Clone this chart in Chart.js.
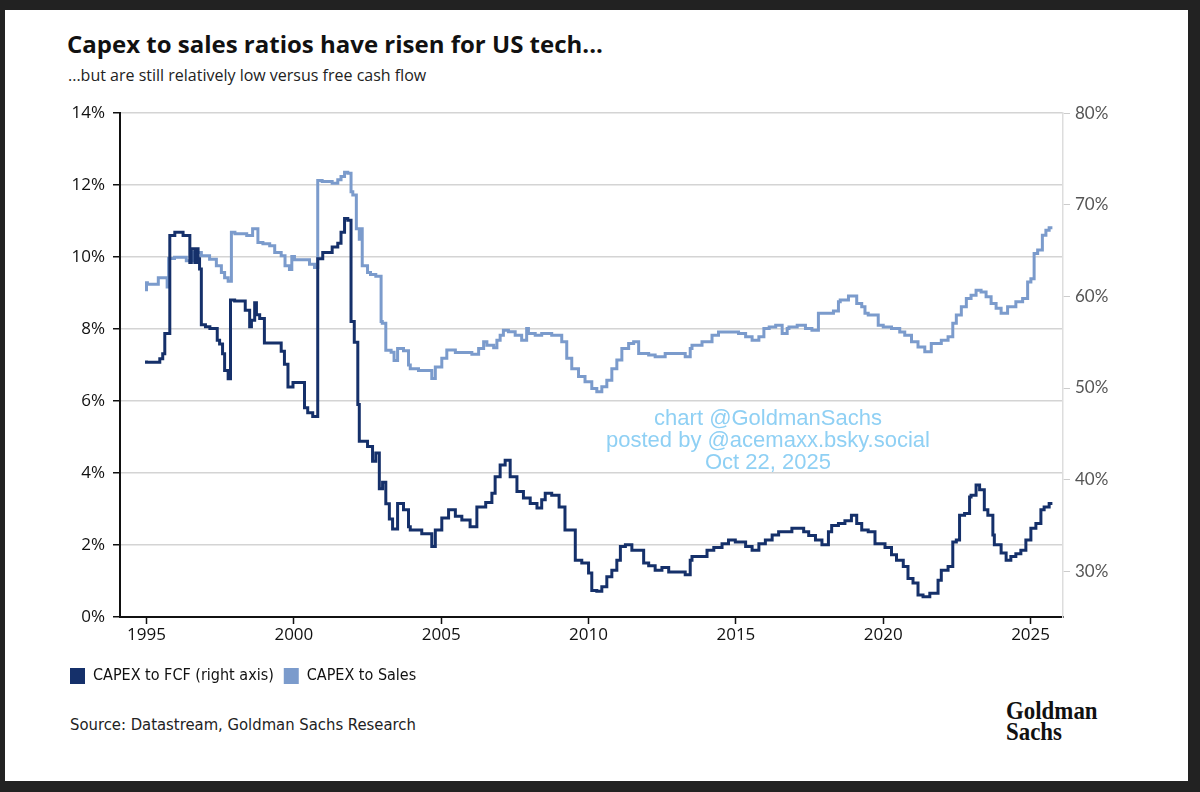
<!DOCTYPE html>
<html>
<head>
<meta charset="utf-8">
<script src="https://cdn.jsdelivr.net/npm/chart.js@4.4.1/dist/chart.umd.min.js"></script>
<style>
  html, body { margin: 0; padding: 0; background: #222; }
  body { width: 1200px; height: 792px; position: relative; overflow: hidden; }
  #card { position: absolute; left: 5px; top: 10px; width: 1183px; height: 771px; background: #fff; }
  .abs { position: absolute; white-space: nowrap; }
  #title { left: 67px; top: 27px; font: bold 24px "Open Sans", sans-serif; color: #111; }
  #subtitle { left: 68px; top: 64px; font: 16px "Open Sans", sans-serif; color: #222; }
  #source { left: 70px; top: 715px; font: 16.5px "Liberation Sans Narrow", "DejaVu Sans Condensed", sans-serif; color: #222; }
  #logo { left: 1006px; top: 700px; font: bold 26px/21px "Liberation Serif", serif; color: #111; transform: scaleX(0.88); transform-origin: left top; }
  #stamp { left: 548px; top: 407px; width: 440px; text-align: center; font: 22px/22px "Liberation Sans", Arial, sans-serif; color: #8fd0f4; }
  #chart { position: absolute; left: 60px; top: 95px; }
</style>
</head>
<body>
<div id="card"></div>
<div id="title" class="abs">Capex to sales ratios have risen for US tech...</div>
<div id="subtitle" class="abs">...but are still relatively low versus free cash flow</div>
<canvas id="chart" width="1075" height="600"></canvas>
<div id="stamp" class="abs">chart @GoldmanSachs<br>posted by @acemaxx.bsky.social<br>Oct 22, 2025</div>
<div id="source" class="abs">Source: Datastream, Goldman Sachs Research</div>
<div id="logo" class="abs">Goldman<br>Sachs</div>
<script>
// tick labels
const yearTicks = [1995, 2000, 2005, 2010, 2015, 2020, 2025];
const leftTicks = [0, 2, 4, 6, 8, 10, 12, 14];
const rightTicks = [30, 40, 50, 60, 70, 80];

// CAPEX to FCF, % (right axis)
const fcfYears = [
  1995.0, 1995.45, 1995.55, 1995.62, 1995.79, 1995.96, 1996.24, 1996.47, 1996.52, 1996.64,
  1996.7, 1996.75, 1996.8, 1996.86, 1997.0, 1997.15, 1997.4, 1997.48, 1997.58, 1997.65,
  1997.77, 1997.85, 1997.99, 1998.35, 1998.5, 1998.56, 1998.67, 1998.73, 1998.84, 1999.0,
  1999.57, 1999.68, 1999.8, 1999.97, 2000.36, 2000.47, 2000.64, 2000.81, 2000.98, 2001.3,
  2001.49, 2001.6, 2001.72, 2001.83, 2001.94, 2002.05, 2002.17, 2002.22, 2002.5, 2002.67,
  2002.78, 2002.9, 2003.01, 2003.12, 2003.24, 2003.35, 2003.52, 2003.72, 2003.89, 2003.95,
  2004.34, 2004.68, 2004.8, 2005.02, 2005.25, 2005.48, 2005.7, 2005.98, 2006.21, 2006.51,
  2006.72, 2006.83, 2007.0, 2007.17, 2007.34, 2007.57, 2007.79, 2008.02, 2008.25, 2008.41,
  2008.53, 2008.75, 2009.0, 2009.2, 2009.55, 2009.77, 2010.0, 2010.11, 2010.28, 2010.45,
  2010.62, 2010.79, 2010.96, 2011.08, 2011.25, 2011.47, 2011.87, 2012.04, 2012.26, 2012.49,
  2012.72, 2013.28, 2013.45, 2013.51, 2014.02, 2014.25, 2014.53, 2014.75, 2014.98, 2015.33,
  2015.55, 2015.78, 2016.0, 2016.23, 2016.45, 2016.9, 2017.3, 2017.47, 2017.7, 2017.92,
  2018.14, 2018.25, 2018.48, 2018.7, 2018.92, 2019.1, 2019.27, 2019.49, 2019.72, 2020.06,
  2020.28, 2020.45, 2020.68, 2020.84, 2021.01, 2021.18, 2021.35, 2021.58, 2021.86, 2021.97,
  2022.2, 2022.36, 2022.48, 2022.59, 2022.76, 2022.93, 2022.98, 2023.15, 2023.27, 2023.43,
  2023.55, 2023.72, 2023.77, 2024.0, 2024.17, 2024.33, 2024.5, 2024.67, 2024.84, 2025.01,
  2025.18, 2025.35, 2025.46, 2025.63, 2025.74
];
const fcfValues = [
  53.0, 52.8, 53.2, 53.75, 55.96, 66.65, 67.0, 66.65, 63.7, 65.2,
  63.7, 65.2, 64.1, 63.0, 56.9, 56.7, 56.5, 55.2, 54.8, 53.75,
  51.9, 51.0, 59.6, 59.5, 58.5, 56.7, 57.4, 59.3, 58.0, 57.6,
  54.9, 54.0, 52.6, 50.1, 50.6, 47.85, 47.3, 46.9, 64.1, 64.8,
  65.4, 65.8, 67.0, 68.5, 68.3, 57.25, 55.0, 48.2, 44.2, 43.6,
  42.0, 42.9, 39.0, 39.7, 37.35, 35.7, 34.6, 37.4, 36.7, 34.86,
  34.5, 34.1, 32.7, 34.5, 35.8, 36.7, 36.0, 35.6, 34.86, 37.0,
  37.5, 38.5, 40.3, 41.6, 42.1, 40.3, 38.7, 38.0, 37.4, 36.9,
  37.8, 38.5, 38.3, 37.0, 34.5, 31.2, 30.9, 29.8, 27.9, 27.8,
  28.3, 29.4, 30.1, 31.2, 32.7, 32.9, 32.3, 30.9, 30.6, 30.1,
  30.4, 29.9, 29.6, 31.2, 31.6, 32.3, 32.6, 33.0, 33.4, 33.2,
  32.7, 32.3, 33.0, 33.4, 33.95, 34.3, 34.7, 34.3, 33.9, 33.4,
  32.9, 34.3, 35.0, 35.2, 35.5, 36.1, 35.2, 34.5, 34.3, 33.0,
  32.6, 31.8, 31.2, 30.5, 29.2, 28.7, 27.4, 27.2, 27.6, 29.0,
  30.1, 30.5, 33.2, 33.4, 36.1, 36.3, 38.1, 38.3, 39.4, 38.9,
  36.7, 36.1, 33.95, 32.9, 32.0, 31.2, 31.6, 31.9, 32.3, 33.4,
  34.7, 35.2, 36.7, 37.0, 37.4
];

// CAPEX to Sales, % (left axis)
const salesYears = [
  1995.0, 1995.03, 1995.4, 1995.7, 1995.75, 1995.95, 1996.35, 1996.6, 1996.86, 1997.14,
  1997.37, 1997.54, 1997.65, 1997.77, 1997.88, 1998.0, 1998.4, 1998.6, 1998.78, 1998.95,
  1999.18, 1999.35, 1999.57, 1999.7, 1999.85, 1999.93, 2000.02, 2000.53, 2000.7, 2000.81,
  2000.96, 2001.3, 2001.49, 2001.6, 2001.72, 2001.83, 2001.94, 2002.0, 2002.12, 2002.22,
  2002.27, 2002.32, 2002.5, 2002.6, 2002.78, 2002.96, 2003.0, 2003.12, 2003.3, 2003.4,
  2003.52, 2003.72, 2003.89, 2003.95, 2004.23, 2004.68, 2004.8, 2005.02, 2005.19, 2005.48,
  2006.04, 2006.27, 2006.44, 2006.55, 2006.78, 2006.89, 2007.0, 2007.11, 2007.28, 2007.51,
  2007.73, 2007.9, 2007.96, 2008.19, 2008.41, 2008.75, 2009.09, 2009.26, 2009.43, 2009.66,
  2009.88, 2010.11, 2010.28, 2010.45, 2010.62, 2010.79, 2010.96, 2011.13, 2011.36, 2011.53,
  2011.7, 2012.04, 2012.26, 2012.6, 2012.94, 2013.28, 2013.45, 2013.51, 2013.85, 2014.19,
  2014.41, 2014.75, 2015.09, 2015.33, 2015.55, 2015.78, 2015.95, 2016.13, 2016.35, 2016.57,
  2016.74, 2016.8, 2017.08, 2017.36, 2017.58, 2017.8, 2018.31, 2018.48, 2018.54, 2018.82,
  2019.1, 2019.27, 2019.38, 2019.49, 2019.83, 2020.0, 2020.28, 2020.56, 2020.73, 2020.96,
  2021.18, 2021.41, 2021.63, 2021.97, 2022.2, 2022.36, 2022.48, 2022.65, 2022.82, 2022.98,
  2023.15, 2023.32, 2023.49, 2023.66, 2023.83, 2024.0, 2024.22, 2024.5, 2024.73, 2024.9,
  2025.01, 2025.12, 2025.24, 2025.4, 2025.52, 2025.63, 2025.74
];
const salesValues = [
  9.05, 9.29, 9.25, 9.43, 9.17, 9.96, 10.0, 9.9, 10.13, 10.04,
  9.94, 9.76, 9.57, 9.43, 9.33, 10.69, 10.65, 10.6, 10.79, 10.41,
  10.37, 10.32, 10.13, 10.04, 9.76, 9.66, 10.02, 9.93, 9.8, 9.71,
  12.13, 12.1, 12.05, 12.15, 12.24, 12.36, 12.33, 11.82, 11.73, 10.79,
  10.5, 10.79, 9.76, 9.57, 9.52, 9.47, 8.21, 8.16, 7.41, 7.36,
  7.13, 7.46, 7.4, 7.0, 6.9, 6.85, 6.63, 6.95, 7.19, 7.42,
  7.35, 7.3, 7.46, 7.65, 7.55, 7.48, 7.69, 7.83, 7.97, 7.93,
  7.83, 7.69, 8.02, 7.88, 7.83, 7.88, 7.83, 7.65, 7.19, 6.9,
  6.68, 6.54, 6.35, 6.26, 6.4, 6.58, 6.9, 7.14, 7.46, 7.6,
  7.65, 7.32, 7.28, 7.23, 7.32, 7.32, 7.23, 7.46, 7.55, 7.65,
  7.83, 7.92, 7.92, 7.88, 7.79, 7.69, 7.79, 8.02, 8.06, 8.11,
  7.88, 8.02, 8.06, 8.11, 8.02, 7.97, 8.44, 8.5, 8.76, 8.81,
  8.92, 8.71, 8.62, 8.44, 8.39, 8.11, 8.06, 8.02, 7.92, 7.83,
  7.65, 7.5, 7.37, 7.6, 7.69, 7.79, 8.16, 8.39, 8.62, 8.85,
  8.94, 9.08, 9.03, 8.9, 8.71, 8.58, 8.44, 8.62, 8.76, 8.85,
  9.31, 9.4, 10.1, 10.2, 10.61, 10.75, 10.82
];

const toPoints = (xs, ys) => xs.map((x, i) => ({ x: x, y: ys[i] }));
const tickFont = { family: "'Open Sans', sans-serif", size: 17 };

const ctx = document.getElementById("chart").getContext("2d");
const chart = new Chart(ctx, {
  type: "line",
  data: {
    datasets: [
      {
        label: "CAPEX to FCF (right axis)",
        data: toPoints(fcfYears, fcfValues),
        yAxisID: "yRight",
        borderColor: "#15306a",
        backgroundColor: "#15306a",
        borderWidth: 3,
        stepped: "after",
        pointRadius: 0,
      },
      {
        label: "CAPEX to Sales",
        data: toPoints(salesYears, salesValues),
        yAxisID: "yLeft",
        borderColor: "#7b9bcc",
        backgroundColor: "#7b9bcc",
        borderWidth: 3,
        stepped: "after",
        pointRadius: 0,
      },
    ],
  },
  options: {
    responsive: false,
    animation: false,
    layout: { padding: { top: 18, bottom: 1, left: 0, right: 0 } },
    plugins: {
      tooltip: { enabled: false },
      legend: {
        position: "bottom",
        align: "start",
        labels: {
          color: "#111",
          font: { family: "'Liberation Sans Narrow', 'DejaVu Sans Condensed', sans-serif", size: 16 },
          boxWidth: 15,
          boxHeight: 16,
          padding: 10,
          generateLabels: (c) =>
            Chart.defaults.plugins.legend.labels.generateLabels(c).map((l) => ({ ...l, lineWidth: 0, fillStyle: l.strokeStyle })),
        },
      },
    },
    scales: {
      x: {
        type: "linear",
        min: 1994.1,
        max: 2026.1,
        afterBuildTicks: (s) => { s.ticks = yearTicks.map((v) => ({ value: v })); },
        afterFit: (s) => { s.height = 41; },
        ticks: { color: "#111", font: tickFont, padding: 1, callback: (v) => String(v) },
        grid: { drawOnChartArea: false, drawTicks: true, tickLength: 7, tickColor: "#111", tickWidth: 1.5 },
        border: { color: "#111", width: 2 },
      },
      yLeft: {
        position: "left",
        min: 0,
        max: 14,
        afterBuildTicks: (s) => { s.ticks = leftTicks.map((v) => ({ value: v })); },
        afterFit: (s) => { s.width = 60; },
        ticks: { color: "#111", font: tickFont, padding: 8, callback: (v) => v + "%" },
        grid: { color: "#d4d4d4", lineWidth: 1.5, tickLength: 7, tickColor: "#111", tickWidth: 1.5 },
        border: { color: "#111", width: 2 },
      },
      yRight: {
        position: "right",
        min: 25,
        max: 80,
        afterBuildTicks: (s) => { s.ticks = rightTicks.map((v) => ({ value: v })); },
        afterFit: (s) => { s.width = 72; },
        ticks: { color: "#555", font: { family: "Lato, sans-serif", size: 17 }, padding: 5, callback: (v) => v + "%" },
        grid: { drawOnChartArea: false, tickLength: 7, tickColor: "#ccc" },
        border: { color: "#ddd", width: 1.5 },
      },
    },
  },
});
</script>
</body>
</html>
